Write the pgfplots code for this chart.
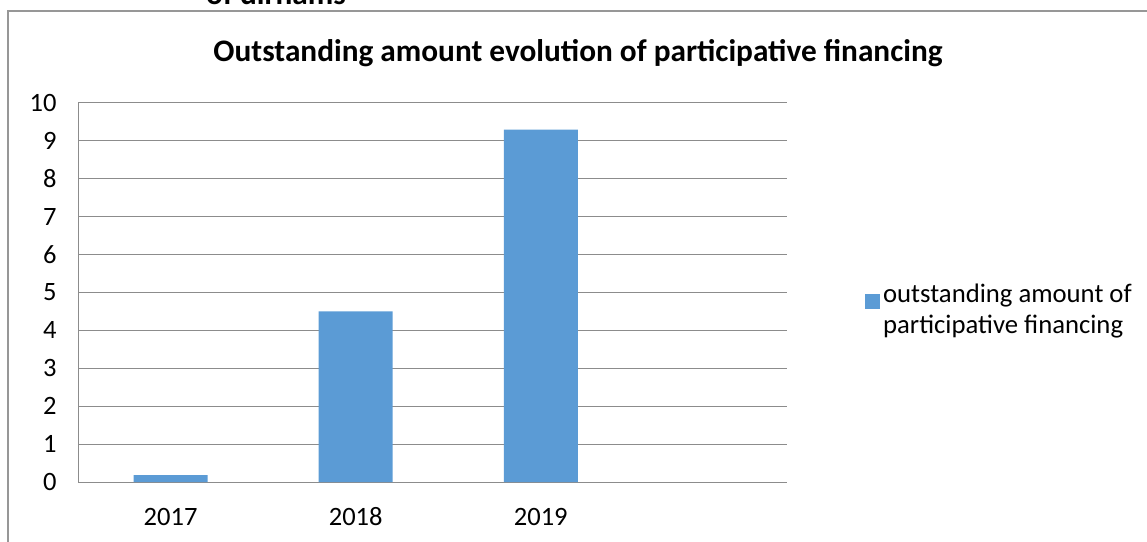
\documentclass[border=0pt]{standalone}
\usepackage{pgfplots}
\pgfplotsset{compat=1.18}
\usepackage{fontspec}
\setmainfont{Carlito}
\definecolor{barblue}{HTML}{5B9BD5}
\definecolor{gridgray}{HTML}{8C8C8C}
\begin{document}
\begin{tikzpicture}[x=1pt,y=1pt]
\useasboundingbox (0,0) rectangle (1147,541);
\draw[color=gridgray!90, line width=1.3pt] (8,-5) -- (8,530) -- (1152,530);
\node[font=\fontsize{31.3}{36}\selectfont\bfseries, anchor=base] at (276,536) {of dirhams};
\node[font=\fontsize{31.3}{36}\selectfont\bfseries, anchor=base] at (578,479) {Outstanding amount evolution of participative financing};
\begin{axis}[
  at={(78pt,59pt)}, anchor=south west,
  scale only axis, width=709pt, height=379pt,
  ybar, bar width=74pt,
  xmin=-0.5, xmax=3.33, ymin=0, ymax=10,
  xtick={0,1,2}, xticklabels={2017,2018,2019},
  ytick={0,1,2,3,4,5,6,7,8,9,10},
  ymajorgrids, grid style={gridgray, line width=1pt},
  axis x line*=bottom, axis y line*=left,
  axis line style={gridgray, line width=1pt, -},
  major tick length=0pt,
  tick label style={font=\fontsize{26.5}{30}\selectfont},
  xticklabel style={text height=17pt, text depth=0pt},
  /pgf/number format/assume math mode=true,
  xticklabel shift=22.5pt, yticklabel shift=18pt,
  legend style={at={(1.105,0.456)}, anchor=west, draw=none, fill=none,
    font=\fontsize{26.7}{31}\selectfont, cells={align=left, anchor=west},
    nodes={inner sep=3.5pt}},
  legend image code/.code={\fill[barblue] (0pt,0pt) rectangle (15pt,15pt); \path (0pt,-8pt);},
]
\addplot[fill=barblue, draw=none] coordinates {(0,0.18) (1,4.5) (2,9.3)};
\addlegendentry{outstanding amount of\\participative financing}
\end{axis}
\end{tikzpicture}
\end{document}
